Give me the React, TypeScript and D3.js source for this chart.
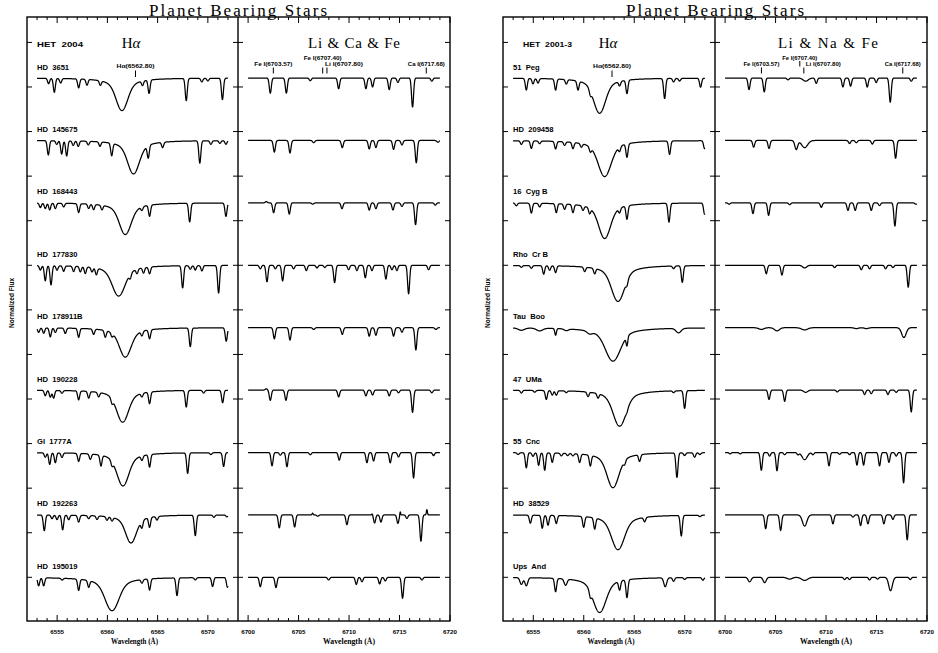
import React from "react";
import * as d3 from "d3";

// ---------------- DATA ----------------
const leftStars = ["HD 3651", "HD 145675", "HD 168443", "HD 177830", "HD 178911B", "HD 190228", "Gl 1777A", "HD 192263", "HD 195019"];
const rightStars = ["51 Peg", "HD 209458", "16 Cyg B", "Rho Cr B", "Tau Boo", "47 UMa", "55 Cnc", "HD 38529", "Ups And"];

// H-alpha core per star: [centre (A), depth, sigma (A)]
const leftHalpha = [
  [6561.45, 0.73, 0.55], [6562.6, 0.75, 0.55], [6561.78, 0.71, 0.55], [6561.12, 0.69, 0.6], [6561.78, 0.66, 0.55],
  [6561.52, 0.72, 0.55], [6561.55, 0.75, 0.55], [6562.35, 0.63, 0.5], [6560.46, 0.75, 0.65],
];
const rightHalpha = [
  [6561.57, 0.79, 0.55], [6562.07, 0.81, 0.6], [6562.07, 0.8, 0.55], [6563.39, 0.81, 0.6], [6562.89, 0.75, 0.7],
  [6563.55, 0.81, 0.6], [6562.89, 0.79, 0.55], [6563.39, 0.78, 0.6], [6561.57, 0.79, 0.6],
];

// absorption lines: [wavelength, depth, sigma?]
const leftHaLines = [
  [[6554.15, 0.12], [6554.72, 0.31], [6555.35, 0.1], [6557.14, 0.2], [6557.97, 0.13], [6559.3, 0.1], [6563.5, 0.1], [6564.15, 0.3], [6567.85, 0.5], [6569.4, 0.08], [6570.0, 0.06], [6571.45, 0.48]],
  [[6554.12, 0.32], [6554.96, 0.08], [6555.45, 0.3], [6555.95, 0.34], [6556.6, 0.1], [6557.1, 0.12], [6558.1, 0.08], [6559.26, 0.1], [6560.43, 0.28], [6564.07, 0.28], [6565.5, 0.12], [6569.2, 0.5], [6570.3, 0.08], [6571.2, 0.06], [6571.8, 0.08]],
  [[6553.33, 0.1], [6553.82, 0.12], [6554.26, 0.15], [6554.82, 0.12], [6555.65, 0.08], [6557.14, 0.2], [6558.14, 0.1], [6558.63, 0.12], [6559.46, 0.1], [6563.44, 0.08], [6564.2, 0.25], [6568.19, 0.42], [6571.8, 0.3]],
  [[6553.33, 0.1], [6553.82, 0.34], [6554.39, 0.43], [6554.99, 0.1], [6555.65, 0.12], [6556.64, 0.12], [6557.31, 0.12], [6557.8, 0.15], [6558.47, 0.1], [6558.9, 0.15], [6562.28, 0.1], [6562.95, 0.1], [6563.6, 0.12], [6564.2, 0.15], [6567.49, 0.5], [6568.25, 0.08], [6568.75, 0.1], [6569.41, 0.12], [6571.07, 0.62]],
  [[6553.16, 0.1], [6553.66, 0.12], [6554.32, 0.2], [6554.82, 0.1], [6555.81, 0.12], [6557.14, 0.2], [6558.63, 0.12], [6559.79, 0.15], [6560.46, 0.08], [6563.44, 0.1], [6564.2, 0.2], [6568.25, 0.42], [6571.83, 0.3]],
  [[6553.82, 0.12], [6554.32, 0.15], [6554.65, 0.17], [6555.48, 0.06], [6557.14, 0.2], [6558.14, 0.15], [6559.13, 0.1], [6560.46, 0.1], [6563.44, 0.08], [6564.2, 0.26], [6567.85, 0.37], [6569.58, 0.06], [6571.47, 0.28]],
  [[6553.82, 0.1], [6554.26, 0.26], [6554.82, 0.22], [6555.48, 0.1], [6557.14, 0.18], [6558.3, 0.12], [6559.36, 0.24], [6560.46, 0.1], [6563.44, 0.1], [6564.2, 0.28], [6567.99, 0.46], [6570.3, 0.04], [6571.57, 0.31]],
  [[6553.72, 0.35], [6554.49, 0.08], [6554.99, 0.1], [6555.55, 0.33], [6556.15, 0.1], [6557.14, 0.15], [6558.14, 0.07], [6558.97, 0.08], [6559.96, 0.08], [6560.46, 0.08], [6563.44, 0.15], [6564.2, 0.22], [6564.94, 0.08], [6568.75, 0.46], [6570.6, 0.05], [6571.9, 0.04]],
  [[6553.16, 0.18], [6553.66, 0.18], [6555.5, 0.04], [6557.14, 0.25], [6558.14, 0.15], [6563.44, 0.08], [6564.2, 0.25], [6566.93, 0.4], [6568.75, 0.05], [6570.47, 0.2], [6571.95, 0.22]],
];
const leftLiLines = [
  [[6702.2, 0.34], [6703.79, 0.34], [6706.16, 0.06], [6708.97, 0.24], [6711.67, 0.24], [6712.33, 0.2], [6713.98, 0.26], [6714.84, 0.1], [6716.29, 0.65], [6718.2, 0.07]],
  [[6702.6, 0.26], [6704.15, 0.28], [6706.5, 0.05], [6709.33, 0.16], [6712.0, 0.19], [6712.66, 0.16], [6714.41, 0.2], [6715.24, 0.1], [6716.66, 0.5], [6718.8, 0.04]],
  [[6701.8, -0.03], [6702.53, 0.22], [6704.08, 0.25], [6706.4, 0.03], [6709.3, 0.13], [6712.0, 0.16], [6712.66, 0.13], [6714.35, 0.16], [6715.24, 0.08], [6716.59, 0.49], [6718.54, 0.05]],
  [[6701.21, 0.08], [6701.87, 0.37], [6702.7, 0.08], [6703.42, 0.35], [6704.51, 0.08], [6705.77, 0.12], [6706.82, 0.06], [6707.6, 0.05], [6708.57, 0.39], [6709.96, 0.1], [6710.78, 0.12], [6711.61, 0.28], [6712.27, 0.12], [6713.65, 0.31], [6714.25, 0.1], [6714.74, 0.12], [6715.9, 0.64], [6717.88, 0.1]],
  [[6702.6, 0.25], [6704.15, 0.28], [6706.5, 0.04], [6709.33, 0.15], [6712.0, 0.19], [6712.66, 0.17], [6714.41, 0.19], [6715.24, 0.1], [6716.62, 0.5], [6718.6, 0.04]],
  [[6701.8, -0.03], [6702.2, 0.23], [6703.75, 0.23], [6708.97, 0.15], [6711.67, 0.13], [6712.33, 0.11], [6713.98, 0.13], [6714.9, 0.06], [6716.29, 0.5], [6718.2, 0.06]],
  [[6702.37, 0.3], [6703.19, 0.06], [6703.85, 0.32], [6706.16, 0.05], [6709.03, 0.17], [6711.77, 0.23], [6712.43, 0.19], [6714.08, 0.23], [6714.9, 0.1], [6716.39, 0.57], [6718.37, 0.07]],
  [[6703.09, 0.29], [6704.61, 0.27], [6706.39, -0.04, 0.05], [6706.9, 0.03], [6709.79, 0.22], [6712.3, -0.03, 0.05], [6712.53, 0.18], [6713.16, 0.16], [6714.84, 0.19], [6715.07, -0.08, 0.04], [6715.73, 0.08], [6717.12, 0.59], [6717.71, -0.12, 0.05]],
  [[6701.21, 0.21], [6702.76, 0.23], [6707.98, 0.06], [6710.72, 0.16], [6711.28, 0.1], [6713.03, 0.15], [6713.59, 0.08], [6715.3, 0.47], [6717.22, 0.06]],
];
const rightHaLines = [
  [[6554.31, 0.26], [6554.97, 0.12], [6555.47, 0.1], [6557.21, 0.25], [6558.27, 0.1], [6559.43, 0.2], [6560.65, 0.1], [6563.55, 0.1], [6564.28, 0.3], [6568.01, 0.45], [6568.9, 0.08], [6569.49, 0.06], [6571.57, 0.2]],
  [[6553.82, 0.08], [6554.81, 0.17], [6555.63, 0.06], [6557.21, 0.17], [6558.1, 0.08], [6558.93, 0.14], [6559.76, 0.08], [6560.65, 0.1], [6563.55, 0.1], [6564.28, 0.3], [6568.5, 0.3], [6571.97, 0.18]],
  [[6553.32, 0.06], [6554.81, 0.22], [6555.63, 0.08], [6557.28, 0.2], [6558.1, 0.12], [6558.93, 0.18], [6559.92, 0.1], [6560.58, 0.12], [6563.55, 0.1], [6564.28, 0.3], [6568.44, 0.42], [6571.97, 0.25]],
  [[6553.82, 0.04], [6554.81, 0.06], [6556.03, 0.19], [6556.62, 0.1], [6557.21, 0.15], [6560.09, 0.1], [6561.08, 0.12], [6564.28, 0.1], [6568.9, 0.06], [6569.76, 0.37]],
  [[6553.82, 0.05, 0.3], [6555.63, 0.06, 0.3], [6557.21, 0.15, 0.08], [6558.27, 0.04, 0.2], [6560.58, 0.06, 0.25], [6564.28, 0.2, 0.08], [6569.39, 0.1, 0.25]],
  [[6553.82, 0.06], [6555.14, 0.04], [6556.29, 0.2], [6556.88, 0.1], [6557.28, 0.1], [6558.27, 0.04], [6560.42, 0.1], [6561.41, 0.1], [6564.28, 0.04], [6568.9, 0.04], [6569.99, 0.4]],
  [[6553.5, 0.04], [6554.31, 0.34], [6554.97, 0.08], [6555.53, 0.28], [6556.13, 0.39], [6556.88, 0.21], [6557.78, 0.06], [6558.4, 0.05], [6558.93, 0.05], [6559.59, 0.19], [6560.65, 0.24], [6564.05, 0.08], [6565.53, 0.15], [6569.23, 0.55], [6569.99, 0.06], [6570.98, 0.1], [6571.5, 0.04]],
  [[6554.71, 0.18], [6555.89, 0.29], [6556.46, 0.22], [6557.28, 0.18], [6559.99, 0.24], [6561.08, 0.25], [6566.03, 0.1], [6569.66, 0.46], [6571.5, 0.03]],
  [[6553.82, 0.15, 0.14], [6554.31, 0.18, 0.14], [6557.21, 0.3], [6558.2, 0.14, 0.14], [6560.65, 0.12], [6563.55, 0.2], [6564.28, 0.4], [6568.07, 0.2, 0.14], [6568.9, 0.08], [6570.0, 0.04], [6571.8, 0.06]],
];
const rightLiLines = [
  [[6702.37, 0.26], [6703.88, 0.31], [6706.23, 0.04], [6707.98, 0.07, 0.25], [6709.03, 0.12], [6711.67, 0.2], [6712.43, 0.18], [6714.08, 0.2], [6714.97, 0.1], [6716.36, 0.54], [6718.44, 0.07]],
  [[6702.83, 0.15], [6704.35, 0.18], [6707.05, 0.2, 0.14], [6707.88, 0.16, 0.3], [6712.33, 0.07], [6713.0, 0.05], [6714.58, 0.08], [6716.89, 0.4]],
  [[6700.4, 0.03], [6702.76, 0.24], [6704.31, 0.28], [6706.4, 0.04], [6709.53, 0.1], [6712.17, 0.17], [6712.89, 0.17], [6714.48, 0.17], [6715.3, 0.06], [6716.82, 0.52], [6718.9, 0.03]],
  [[6704.08, 0.19], [6705.63, 0.22], [6707.88, 0.06, 0.2], [6710.85, 0.05], [6713.49, 0.1], [6714.31, 0.08], [6715.9, 0.08], [6716.63, 0.05], [6718.14, 0.49]],
  [[6703.59, 0.04, 0.25], [6705.14, 0.07, 0.25], [6707.88, 0.05, 0.3], [6713.0, 0.02, 0.2], [6714.0, 0.02, 0.2], [6717.71, 0.22, 0.22]],
  [[6704.35, 0.21], [6705.9, 0.25], [6707.98, 0.05, 0.2], [6711.11, 0.04], [6713.82, 0.1], [6714.48, 0.08], [6716.13, 0.1], [6716.95, 0.05], [6718.44, 0.49]],
  [[6700.5, 0.03], [6701.5, 0.03], [6703.59, 0.4], [6704.41, 0.08], [6705.14, 0.41], [6705.9, 0.05], [6707.22, 0.05], [6707.88, 0.16, 0.25], [6708.7, 0.05], [6710.29, 0.3], [6711.34, 0.04], [6712.33, 0.05], [6713.06, 0.28], [6713.72, 0.28], [6715.3, 0.3], [6716.23, 0.22], [6716.95, 0.08], [6717.68, 0.68]],
  [[6704.02, 0.31], [6705.5, 0.35], [6707.88, 0.25, 0.22], [6710.68, 0.2], [6712.67, 0.05], [6713.42, 0.24], [6714.15, 0.2], [6715.73, 0.2], [6716.62, 0.1], [6718.04, 0.56]],
  [[6702.43, 0.1, 0.15], [6703.92, 0.12, 0.15], [6706.39, 0.04, 0.25], [6707.88, 0.07, 0.3], [6711.84, 0.05], [6712.33, 0.05], [6714.31, 0.06], [6715.1, 0.04], [6716.39, 0.3, 0.18], [6718.34, 0.05]],
];

const haTicks = [6555, 6560, 6565, 6570];
const liTicks = [6700, 6705, 6710, 6715, 6720];
const yTicks = d3.range(1, 14);
const haMarkLabel = "Hα(6562.80)";
const haMark = 6562.8;
const liMarkLabels = ["Fe I(6703.57)", "Fe I(6707.40)", "Li I(6707.80)", "Ca I(6717.68)"];
const leftLiMarks = [6702.5, 6707.39, 6707.81, 6717.65];
const rightLiMarks = [6703.6, 6707.4, 6707.8, 6717.6];
const starOffset = 1.4; // flux offset between successive spectra

// ---------------- LAYOUT ----------------
const TOP = 17, BOT = 621;
const FIGS = [
  {
    x0: 27, xm: 238, x1: 450, het: "HET 2004", hetX: 37, hetW: 46, haX: 131, liTitle: "Li & Ca & Fe", liX: 308, liW: 92,
    stars: leftStars, halpha: leftHalpha, haLines: leftHaLines, liLines: leftLiLines, marks: leftLiMarks, feHigh: false,
    labelW: [38, 38, 38, 37], liLabelDx: -2, starX: 37,
  },
  {
    x0: 503, xm: 715, x1: 927, het: "HET 2001-3", hetX: 523, hetW: 49, haX: 608, liTitle: "Li & Na & Fe", liX: 778, liW: 100,
    stars: rightStars, halpha: rightHalpha, haLines: rightHaLines, liLines: rightLiLines, marks: rightLiMarks, feHigh: true,
    labelW: [36, 35, 35, 36], liLabelDx: 2, starX: 513,
  },
];

function spectrum(lams: number[], cont: number, lines: number[][], ha: number[] | null) {
  return lams.map((l) => {
    let d = 0;
    if (ha) {
      const [c, dep, s] = ha;
      const x = l - c;
      d += dep * (0.7 * Math.exp(-(x * x) / (2 * s * s)) + 0.3 / (1 + (x / (2.5 * s)) ** 2));
    }
    for (const ln of lines) {
      const s = ln[2] ?? 0.1;
      const x = l - ln[0];
      if (Math.abs(x) < 6 * s) d += ln[1] * Math.exp(-(x * x) / (2 * s * s));
    }
    return [l, cont - d] as [number, number];
  });
}

const haGrid = d3.range(6553, 6572.0001, 0.02);
const liGrid = d3.range(6700, 6719.0001, 0.02);

const SANS = "'Liberation Sans', Arial, sans-serif";
const SERIF = "'Liberation Serif', 'DejaVu Serif', serif";

export default function App() {
  const y = d3.scaleLinear().domain([0.02, 13.57]).range([BOT, TOP]);

  return (
    <div style={{ position: "absolute", left: 0, top: 0 }}>
      <svg width={938} height={653} style={{ display: "block" }}>
        <rect x={0} y={0} width={938} height={653} fill="#fff" />
        {FIGS.map((f, fi) => {
          const xh = d3.scaleLinear().domain([6552, 6573]).range([f.x0, f.xm]);
          const xl = d3.scaleLinear().domain([6699, 6720]).range([f.xm, f.x1]);
          const lineH = d3.line<[number, number]>().x((d) => xh(d[0])).y((d) => y(d[1]));
          const lineL = d3.line<[number, number]>().x((d) => xl(d[0])).y((d) => y(d[1]));
          const haMinor = d3.range(6553, 6573, 1);
          const liMinor = d3.range(6700, 6720, 1);
          const axisTicks = (sc: d3.ScaleLinear<number, number>, minor: number[], major: number[]) => (
            <g>
              {minor.map((t) => {
                const isMaj = major.includes(t);
                const L = isMaj ? 6 : 3;
                return (
                  <g key={t}>
                    <line x1={sc(t)} x2={sc(t)} y1={BOT} y2={BOT - L} stroke="#000" strokeWidth={1} />
                    <line x1={sc(t)} x2={sc(t)} y1={TOP} y2={TOP + L} stroke="#000" strokeWidth={1} />
                  </g>
                );
              })}
              {major.map((t) => (
                <text key={"l" + t} x={sc(t)} y={633.5} fontFamily={SANS} fontWeight="bold" fontSize={6.2} textAnchor="middle">
                  {t}
                </text>
              ))}
            </g>
          );
          return (
            <g key={fi}>
              {/* Title */}
              <text x={f.xm} y={16} fontFamily={SERIF} fontSize={17} textAnchor="middle" textLength={178} lengthAdjust="spacing">
                Planet Bearing Stars
              </text>
              {/* frame */}
              <rect x={f.x0} y={TOP} width={f.x1 - f.x0} height={BOT - TOP} fill="none" stroke="#000" strokeWidth={1.4} />
              <line x1={f.xm} x2={f.xm} y1={TOP} y2={BOT} stroke="#000" strokeWidth={1.4} />
              {/* y ticks */}
              {yTicks.map((t) => (
                <g key={"y" + t}>
                  <line x1={f.x0} x2={f.x0 + 5} y1={y(t)} y2={y(t)} stroke="#000" strokeWidth={1} />
                  <line x1={f.xm - 5} x2={f.xm + 5} y1={y(t)} y2={y(t)} stroke="#000" strokeWidth={1} />
                  <line x1={f.x1 - 5} x2={f.x1} y1={y(t)} y2={y(t)} stroke="#000" strokeWidth={1} />
                </g>
              ))}
              {axisTicks(xh, haMinor, haTicks)}
              {axisTicks(xl, liMinor.concat([6720]), liTicks)}
              {/* axis labels */}
              <text x={(f.x0 + f.xm) / 2 + 2} y={644} fontFamily={SERIF} fontWeight="bold" fontSize={7.5} textAnchor="middle" textLength={47} lengthAdjust="spacingAndGlyphs">
                Wavelength (Å)
              </text>
              <text x={(f.xm + f.x1) / 2 + 5} y={644} fontFamily={SERIF} fontWeight="bold" fontSize={7.5} textAnchor="middle" textLength={52} lengthAdjust="spacingAndGlyphs">
                Wavelength (Å)
              </text>
              <text transform={`translate(${f.x0 - 13},${303}) rotate(-90)`} fontFamily={SANS} fontWeight="bold" fontSize={6.5} textAnchor="middle" textLength={50} lengthAdjust="spacingAndGlyphs">
                Normalized Flux
              </text>
              {/* panel headers */}
              <text x={f.hetX} y={47} fontFamily={SANS} fontWeight="bold" fontSize={8} textLength={f.hetW} lengthAdjust="spacingAndGlyphs" style={{ whiteSpace: "pre" }}>
                {f.het.replace(" ", "  ")}
              </text>
              <text x={f.haX} y={48} fontFamily={SERIF} fontSize={15} textAnchor="middle">
                H<tspan fontStyle="italic">α</tspan>
              </text>
              <text x={f.liX} y={48} fontFamily={SERIF} fontSize={15} textLength={f.liW} lengthAdjust="spacing">
                {f.liTitle}
              </text>
              {/* H-alpha marker */}
              <text x={xh(haMark)} y={68} fontFamily={SANS} fontWeight="bold" fontSize={5.5} textAnchor="middle" textLength={38} lengthAdjust="spacingAndGlyphs">
                {haMarkLabel}
              </text>
              <line x1={xh(haMark)} x2={xh(haMark)} y1={70.5} y2={77} stroke="#000" strokeWidth={1} />
              {/* Li region markers */}
              {f.marks.map((m, i) => {
                const high = i === 1;
                const tickHigh = high && f.feHigh;
                const ty = high ? 59.5 : 66;
                const isLi = i === 2;
                return (
                  <g key={"m" + i}>
                    <text
                      x={isLi ? xl(m) + f.liLabelDx : xl(m)}
                      y={ty}
                      fontFamily={SANS}
                      fontWeight="bold"
                      fontSize={5.5}
                      textAnchor={isLi ? "start" : "middle"}
                      textLength={f.labelW[i]}
                      lengthAdjust="spacingAndGlyphs"
                    >
                      {liMarkLabels[i]}
                    </text>
                    <line x1={xl(m)} x2={xl(m)} y1={tickHigh ? 61 : 67.5} y2={tickHigh ? 66.5 : 73.5} stroke="#000" strokeWidth={1} />
                  </g>
                );
              })}
              {/* spectra */}
              {f.stars.map((name, si) => {
                const cont = 1 + starOffset * (8 - si);
                const ha = spectrum(haGrid, cont, f.haLines[si], f.halpha[si]);
                const li = spectrum(liGrid, cont, f.liLines[si], null);
                return (
                  <g key={name}>
                    <text x={f.starX} y={y(cont) - 8.5} fontFamily={SANS} fontWeight="bold" fontSize={7.6} style={{ whiteSpace: "pre" }}>
                      {name.replace(" ", "  ")}
                    </text>
                    <path d={lineH(ha) || ""} fill="none" stroke="#000" strokeWidth={1.25} strokeLinejoin="round" />
                    <path d={lineL(li) || ""} fill="none" stroke="#000" strokeWidth={1.25} strokeLinejoin="round" />
                  </g>
                );
              })}
            </g>
          );
        })}
      </svg>
    </div>
  );
}
